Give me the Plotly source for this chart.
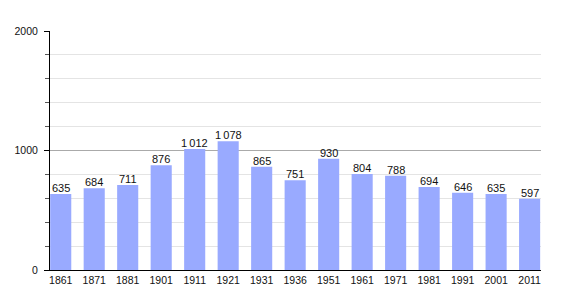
import plotly.graph_objects as go

years = ["1861", "1871", "1881", "1901", "1911", "1921", "1931", "1936",
         "1951", "1961", "1971", "1981", "1991", "2001", "2011"]
population = [635, 684, 711, 876, 1012, 1078, 865, 751, 930, 804, 788, 694, 646, 635, 597]
labels = ["{:,}".format(v).replace(",", "\u2009") for v in population]

xs = list(range(len(years)))
fig = go.Figure(go.Bar(
    x=xs, y=population,
    marker=dict(color="#99AAFF", line=dict(width=0)),
    width=0.63,
))

for x, v, t in zip(xs, population, labels):
    fig.add_annotation(x=x, y=v, text=t, showarrow=False, yanchor="bottom",
                       xanchor="center", yshift=-2,
                       font=dict(family="Liberation Sans, Arial", size=11, color="#111"))

fig.update_layout(
    width=570, height=300,
    margin=dict(l=50, r=29, t=31, b=30),
    paper_bgcolor="white", plot_bgcolor="white",
    showlegend=False,
    font=dict(family="Liberation Sans, Arial", size=10.5, color="#111"),
    xaxis=dict(
        tickmode="array", tickvals=xs, ticktext=years,
        range=[-0.32, 14.34], showgrid=False, zeroline=False,
        showline=True, linecolor="black", linewidth=1, ticks="",
        tickfont=dict(size=10.5),
    ),
    yaxis=dict(
        range=[0, 2000], tickvals=[0, 1000, 2000],
        showgrid=True, gridcolor="#aaaaaa", gridwidth=1,
        zeroline=False, showline=True, linecolor="black", linewidth=1,
        ticks="outside", ticklen=5, tickcolor="black",
        ticklabelstandoff=4,
        tickfont=dict(size=10.5),
        minor=dict(dtick=200, showgrid=True, gridcolor="#e4e4e4",
                   ticks="outside", ticklen=4, tickcolor="#555"),
    ),
)

fig.write_html("out.html")
